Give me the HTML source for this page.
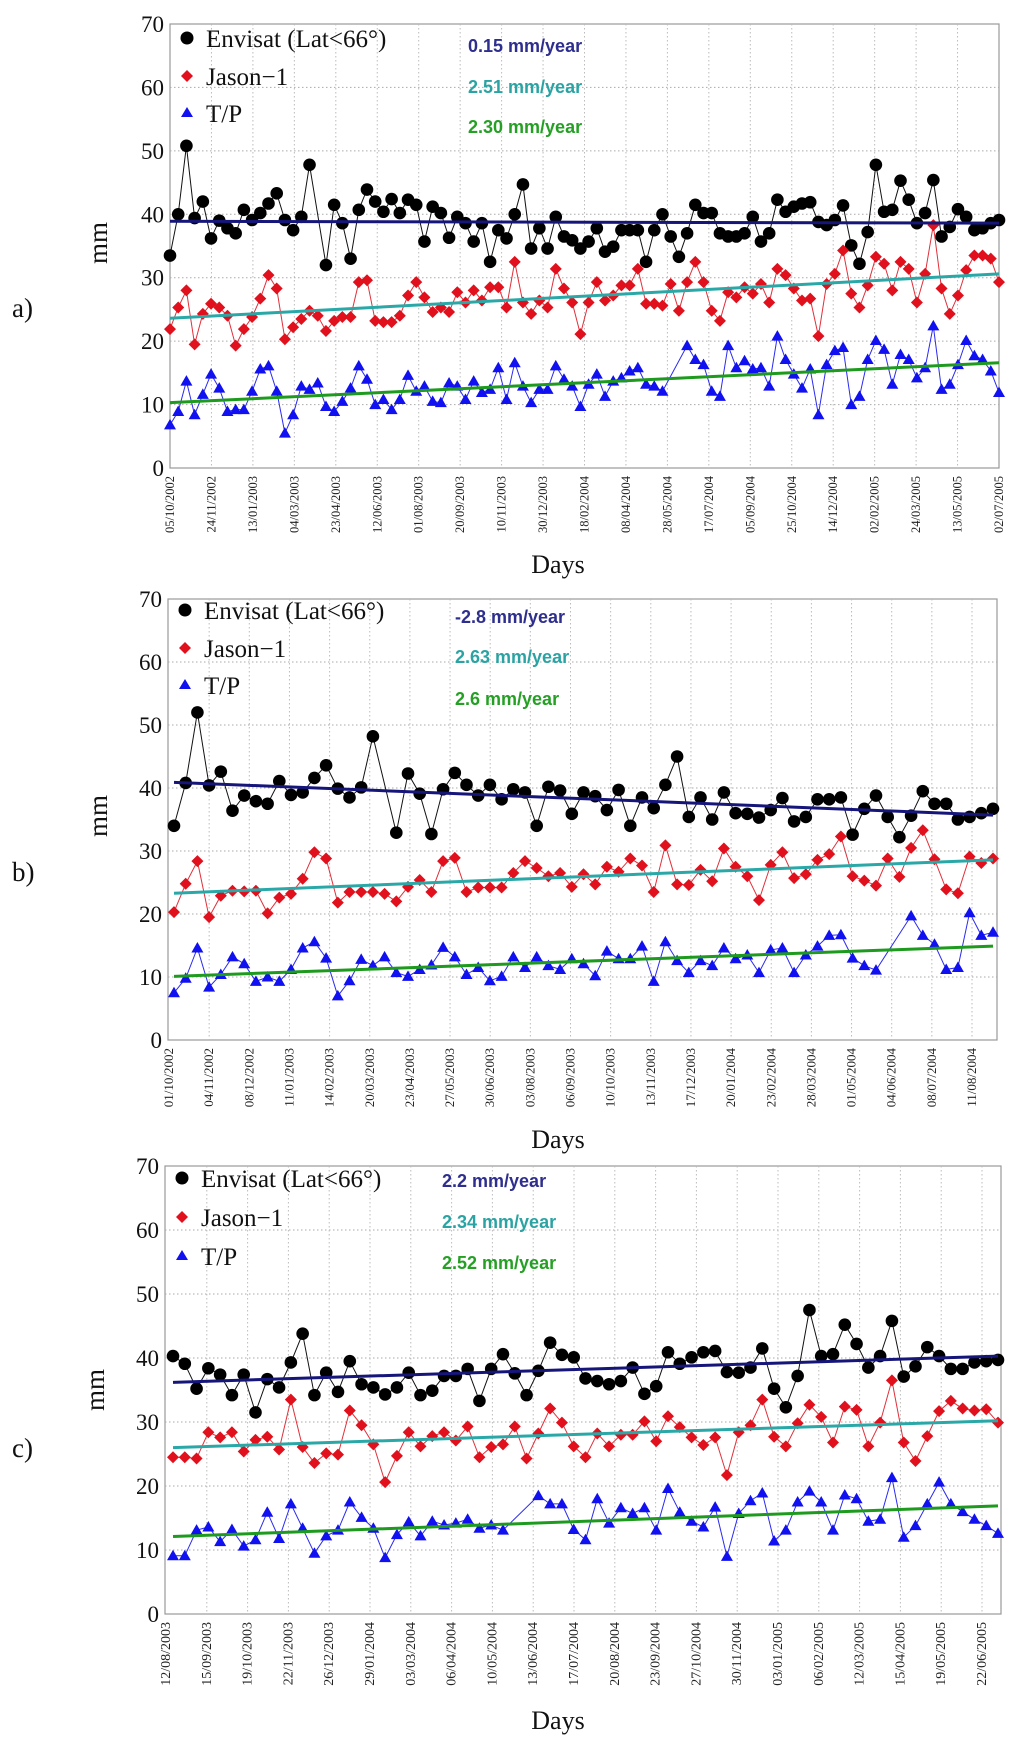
<!DOCTYPE html>
<html><head><meta charset="utf-8"><title>Sea level trends</title>
<style>
html,body{margin:0;padding:0;background:#fff;}
svg{display:block;}
</style></head>
<body>
<svg id="fig" width="1024" height="1738" viewBox="0 0 1024 1738" xmlns="http://www.w3.org/2000/svg"></svg>
<script>
// ---------- Panel a data ----------
const datesA = ["05/10/2002","24/11/2002","13/01/2003","04/03/2003","23/04/2003","12/06/2003","01/08/2003","20/09/2003","10/11/2003","30/12/2003","18/02/2004","08/04/2004","28/05/2004","17/07/2004","05/09/2004","25/10/2004","14/12/2004","02/02/2005","24/03/2005","13/05/2005","02/07/2005"];
const envisatA = [33.5,40,50.8,39.4,42,36.2,39,37.8,37,40.7,39.1,40.2,41.7,43.3,39.1,37.5,39.6,47.8,null,32,41.5,38.6,33,40.7,43.9,42,40.4,42.4,40.2,42.3,41.5,35.7,41.2,40.2,36.3,39.6,38.6,35.7,38.6,32.5,37.5,36.2,40,44.7,34.6,37.8,34.6,39.6,36.5,35.9,34.6,
35.7,37.8,34.1,34.9,37.5,37.5,37.5,32.5,37.5,40,36.5,33.3,37,41.5,40.2,40.2,37,36.5,36.5,37,39.6,35.7,37,42.3,40.4,41.2,41.7,41.9,38.8,38.3,39.1,41.4,35.1,32.2,37.2,47.8,40.4,40.7,45.3,42.3,38.6,40.2,45.4,36.5,38,40.8,39.6,37.5,37.8,38.6,39.1];
const jasonA = [21.9,25.3,28,19.5,24.3,25.9,25.3,24,19.3,21.9,23.8,26.7,30.4,28.3,20.3,22.2,23.5,24.8,24,21.6,23.2,23.8,23.8,29.3,29.6,23.2,23,23,24,27.2,29.3,26.9,24.6,25.3,24.6,27.7,26.1,28,26.4,28.5,28.5,25.3,32.5,26.1,24.3,26.4,25.3,31.4,28.3,26.1,21.1,
26.1,29.3,26.4,27.2,28.8,28.8,31.4,25.9,25.9,25.6,29,24.8,29.3,32.5,29.3,24.8,23.2,27.7,26.9,28.5,27.5,29,26.1,31.4,30.4,28.3,26.4,26.7,20.8,29,30.6,34.3,27.5,25.3,28.8,33.3,32.2,28,32.5,31.4,26.1,30.6,38.3,28.3,24.3,27.2,31.2,33.5,33.5,33,29.3];
const tpA = [6.8,8.9,13.7,8.4,11.6,14.8,12.6,8.9,9.2,9.2,12.1,15.6,16.1,12.1,5.5,8.4,12.9,12.4,13.4,9.7,8.9,10.5,12.6,16.1,14,10,10.8,9.2,10.8,14.6,12.1,12.9,10.5,10.3,13.4,12.9,10.8,13.7,11.9,12.4,15.8,10.8,16.6,12.9,10.3,12.4,12.4,16.1,14,12.9,9.7,
13.2,14.8,11.3,13.7,14.2,15.3,15.8,13.2,12.9,12.1,null,null,19.3,17.1,16.3,12.1,11.3,19.3,15.8,16.9,15.6,15.8,12.9,20.8,17.1,14.8,12.6,15.6,8.4,16.3,18.5,19,10,11.3,17.1,20.1,18.7,13.2,17.9,17.1,14.2,15.8,22.4,12.4,13.2,16.3,20.1,17.7,17.1,15.3,11.9];
const trendStartA = [38.9,23.6,10.3];
const trendEndA = [38.6,30.6,16.6];
const ratesA = ["0.15 mm/year","2.51 mm/year","2.30 mm/year"];

// ---------- Panel b data ----------
const datesB = ["01/10/2002","04/11/2002","08/12/2002","11/01/2003","14/02/2003","20/03/2003","23/04/2003","27/05/2003","30/06/2003","03/08/2003","06/09/2003","10/10/2003","13/11/2003","17/12/2003","20/01/2004","23/02/2004","28/03/2004","01/05/2004","04/06/2004","08/07/2004","11/08/2004"];
const envisatB = [34,40.8,52,40.4,42.6,36.4,38.8,37.9,37.5,41.1,38.9,39.3,41.6,43.6,39.9,38.5,40.1,48.2,null,32.9,42.3,39.1,32.7,39.8,42.4,40.5,38.8,40.5,38.2,39.8,39.3,34,40.2,39.6,35.9,39.3,38.7,
36.5,39.7,34,38.5,36.8,40.5,45,35.4,38.5,35,39.3,36,35.9,35.3,36.5,38.4,34.7,35.4,38.2,38.2,38.5,32.6,36.7,38.8,35.4,32.2,35.6,39.5,37.5,37.5,35,35.4,36,36.7];
const jasonB = [20.3,24.8,28.4,19.5,22.9,23.7,23.6,23.7,20.1,22.6,23.2,25.6,29.8,28.8,21.8,23.5,23.5,23.5,23.2,22,24.3,25.4,23.5,28.4,28.9,23.5,24.2,24.2,24.2,26.5,28.4,27.3,26,26.5,24.3,26.3,24.7,
27.5,26.7,28.8,27.7,23.5,30.9,24.7,24.6,27,25.2,30.4,27.5,26,22.2,27.8,29.8,25.7,26.3,28.6,29.5,32.3,26,25.3,24.5,28.8,25.9,30.5,33.3,28.7,23.9,23.3,29.1,28.1,28.8];
const tpB = [7.5,9.8,14.6,8.4,10.4,13.2,12.1,9.3,10,9.3,11.2,14.6,15.6,13,7,9.4,12.8,11.8,13.2,10.7,10.1,11.2,11.9,14.7,13.2,10.4,11.5,9.4,10.1,13.2,11.5,13.2,11.8,11.2,12.9,12.1,10.2,
14.1,12.9,12.9,14.9,9.3,15.6,12.6,10.7,12.6,11.8,14.6,12.9,13.5,10.7,14.3,14.6,10.7,13.5,14.9,16.6,16.7,13,11.8,11.1,null,null,19.7,16.6,15.2,11.2,11.5,20.2,16.6,17.1];
const trendStartB = [40.9,23.3,10.1];
const trendEndB = [35.7,28.6,14.9];
const ratesB = ["-2.8 mm/year","2.63 mm/year","2.6 mm/year"];

// ---------- Panel c data ----------
const datesC = ["12/08/2003","15/09/2003","19/10/2003","22/11/2003","26/12/2003","29/01/2004","03/03/2004","06/04/2004","10/05/2004","13/06/2004","17/07/2004","20/08/2004","23/09/2004","27/10/2004","30/11/2004","03/01/2005","06/02/2005","12/03/2005","15/04/2005","19/05/2005","22/06/2005"];
const envisatC = [40.3,39.1,35.2,38.4,37.4,34.2,37.4,31.5,36.7,35.4,39.3,43.8,34.2,37.7,34.7,39.5,35.9,35.4,34.3,35.4,37.7,34.2,34.9,37.2,37.2,38.3,33.3,38.3,40.6,37.6,34.2,38,42.4,40.5,40.1,36.8,
36.4,35.9,36.4,38.5,34.4,35.6,40.9,39.1,40.1,40.9,41.1,37.8,37.7,38.5,41.5,35.2,32.3,37.2,47.5,40.3,40.6,45.2,42.2,38.5,40.3,45.8,37.1,38.7,41.7,40.3,38.3,38.3,39.3,39.5,39.7];
const jasonC = [24.5,24.5,24.3,28.4,27.6,28.4,25.4,27.2,27.7,25.7,33.5,26.1,23.6,25.1,24.9,31.8,29.5,26.5,20.6,24.7,28.4,26.2,27.8,28.4,27.1,29.3,24.5,26.1,26.5,29.3,24.3,28.2,32.1,29.9,26.2,24.5,
28.2,26.2,28,28,30.1,27,30.9,29.2,27.6,26.4,27.6,21.7,28.4,29.5,33.5,27.7,26.2,29.8,32.7,30.8,26.8,32.4,31.9,26.2,29.9,36.5,26.8,23.9,27.8,31.7,33.3,32.1,31.8,32,29.9];
const tpC = [9.1,9.1,13.1,13.6,11.3,13.2,10.6,11.6,15.9,11.8,17.2,13.4,9.5,12.2,13.1,17.5,15.1,13.4,8.8,12.4,14.4,12.2,14.5,13.9,14.2,14.8,13.4,13.9,13.1,null,null,18.5,17.2,17.2,13.2,11.6,
18,14.2,16.6,15.7,16.6,13.1,19.6,15.9,14.5,13.6,16.7,9,15.7,17.7,18.9,11.4,13.1,17.5,19.2,17.5,13.1,18.6,18,14.5,14.8,21.3,12,13.8,17.2,20.6,17.2,16,14.8,13.8,12.6];
const trendStartC = [36.2,26,12.1];
const trendEndC = [40.3,30.2,16.9];
const ratesC = ["2.2 mm/year","2.34 mm/year","2.52 mm/year"];

const yTicks = [0,10,20,30,40,50,60,70];
const seriesNames = ["Envisat (Lat<66°)","Jason\u22121"," T/P"];

// ---------- drawing ----------
const NS = "http://www.w3.org/2000/svg";
const svg = document.getElementById("fig");
function mk(tag, attrs, parent){
  const e = document.createElementNS(NS, tag);
  for (const k in attrs) e.setAttribute(k, attrs[k]);
  (parent||svg).appendChild(e);
  return e;
}

const panels = [
  {id:"a", L:170, R:999, T:24, B:468, dates:datesA, tickFirst:170, tickLast:999, ptFirst:170, ptLast:999,
   env:envisatA, jas:jasonA, tp:tpA, ts:trendStartA, te:trendEndA, rates:ratesA, dateFont:12.5,
   leg:[38,76,113], rateX:468, rateY:[45,86,126], mmX:98, mmY:243, daysY:573, labY:308},
  {id:"b", L:168, R:997, T:599, B:1040, dates:datesB, tickFirst:169, tickLast:972, ptFirst:174, ptLast:993,
   env:envisatB, jas:jasonB, tp:tpB, ts:trendStartB, te:trendEndB, rates:ratesB, dateFont:13,
   leg:[610,648,685], rateX:455, rateY:[616,656,698], mmX:98, mmY:816, daysY:1148, labY:872},
  {id:"c", L:165, R:1001, T:1166, B:1614, dates:datesC, tickFirst:166, tickLast:982, ptFirst:173, ptLast:998,
   env:envisatC, jas:jasonC, tp:tpC, ts:trendStartC, te:trendEndC, rates:ratesC, dateFont:14,
   leg:[1178,1217,1256], rateX:442, rateY:[1180,1221,1262], mmX:95, mmY:1390, daysY:1729, labY:1448}
];

const trendColors = ["#15157a","#2aa8a8","#1e9a1e"];
const rateColors = ["#2e2e8e","#2ba3a3","#25a025"];

panels.forEach(p => {
  const g = mk("g", {});
  
  
  const yS = v => p.B - (v/70)*(p.B - p.T);
  const xTick = i => p.tickFirst + i*(p.tickLast - p.tickFirst)/(p.dates.length-1);

  const fr = mk("rect", {x:p.L, y:p.T, width:p.R-p.L, height:p.B-p.T, fill:"#fff", stroke:"#999", "stroke-width":1.2}, g);
  
  

  yTicks.forEach(v => {
    const y = yS(v);
    if (v > 0 && v < 70) {
      const gl = mk("line", {x1:p.L, x2:p.R, y1:y, y2:y, stroke:"#aaa", "stroke-width":1, "stroke-dasharray":"1.5,2.5"}, g);
      
      
    }
    const t = mk("text", {x:p.L-6, y:y+8, "text-anchor":"end", "font-family":"Liberation Serif, serif", "font-size":23, fill:"#111"}, g);
    t.textContent = v;
    
    
  });

  p.dates.forEach((d, i) => {
    const x = xTick(i);
    if (i > 0 && x < p.R - 2) {
      const gl = mk("line", {x1:x, x2:x, y1:p.T, y2:p.B, stroke:"#bbb", "stroke-width":1, "stroke-dasharray":"1.5,2.5"}, g);
      
      
    }
    const t = mk("text", {x:0, y:0, "text-anchor":"end", "font-family":"Liberation Serif, serif", "font-size":p.dateFont, fill:"#222",
      transform:`translate(${x+4},${p.B+8}) rotate(-90)`}, g);
    t.textContent = d;
    
    
  });

  const series = [
    {vals:p.env, color:"#000", lineColor:"#111", marker:"circle", name:"envisat"},
    {vals:p.jas, color:"#e0101c", lineColor:"#e0303a", marker:"diamond", name:"jason-1"},
    {vals:p.tp, color:"#1010f0", lineColor:"#2a2af0", marker:"triangle", name:"tp"}
  ];
  series.forEach(s => {
    const n = s.vals.length;
    const xS = i => p.ptFirst + i*(p.ptLast - p.ptFirst)/(n-1);
    let pts = [];
    s.vals.forEach((v,i) => { if (v !== null) pts.push(xS(i).toFixed(1)+","+yS(v).toFixed(1)); });
    const pl = mk("polyline", {points:pts.join(" "), fill:"none", stroke:s.lineColor, "stroke-width":1}, g);
    
    
    s.vals.forEach((v,i) => {
      if (v === null) return;
      const x = xS(i), y = yS(v);
      let m;
      if (s.marker === "circle") m = mk("circle", {cx:x, cy:y, r:6.3, fill:s.color}, g);
      else if (s.marker === "diamond") m = mk("polygon", {points:`${x},${y-6} ${x+6},${y} ${x},${y+6} ${x-6},${y}`, fill:s.color}, g);
      else m = mk("polygon", {points:`${x},${y-6} ${x+6},${y+4.5} ${x-6},${y+4.5}`, fill:s.color}, g);
      
      
    });
  });

  p.ts.forEach((v, k) => {
    const tl = mk("line", {x1:p.ptFirst, y1:yS(v), x2:p.ptLast, y2:yS(p.te[k]), stroke:trendColors[k], "stroke-width":3}, g);
    
    
  });

  const lx = p.L + 17;
  const mc = mk("circle", {cx:lx, cy:p.leg[0], r:6.5, fill:"#000"}, g);
  
  
  const y1 = p.leg[1];
  const md = mk("polygon", {points:`${lx},${y1-6} ${lx+6},${y1} ${lx},${y1+6} ${lx-6},${y1}`, fill:"#e0101c"}, g);
  
  
  const y2 = p.leg[2];
  const mt = mk("polygon", {points:`${lx},${y2-6} ${lx+6},${y2+4} ${lx-6},${y2+4}`, fill:"#1010f0"}, g);
  
  
  seriesNames.forEach((nm, k) => {
    const t = mk("text", {x:lx+19, y:p.leg[k]+9, "font-family":"Liberation Serif, serif", "font-size":25, fill:"#111", "xml:space":"preserve"}, g);
    t.textContent = nm;
    
    
  });

  p.rates.forEach((r, k) => {
    const t = mk("text", {x:p.rateX, y:p.rateY[k]+7, "font-family":"Liberation Sans, sans-serif", "font-size":18, "font-weight":"bold", fill:rateColors[k]}, g);
    t.textContent = r;
    
    
  });

  const mm = mk("text", {x:0, y:0, "text-anchor":"middle", "font-family":"Liberation Serif, serif", "font-size":27, fill:"#111",
    transform:`translate(${p.mmX+9},${p.mmY}) rotate(-90)`}, g);
  mm.textContent = "mm";
  
  
  const dy = mk("text", {x:558, y:p.daysY, "text-anchor":"middle", "font-family":"Liberation Serif, serif", "font-size":26, fill:"#111"}, g);
  dy.textContent = "Days";
  
  
  const pl = mk("text", {x:12, y:p.labY+9, "font-family":"Liberation Serif, serif", "font-size":27, fill:"#111"}, g);
  pl.textContent = p.id + ")";
  
  
});
</script>
</body></html>
